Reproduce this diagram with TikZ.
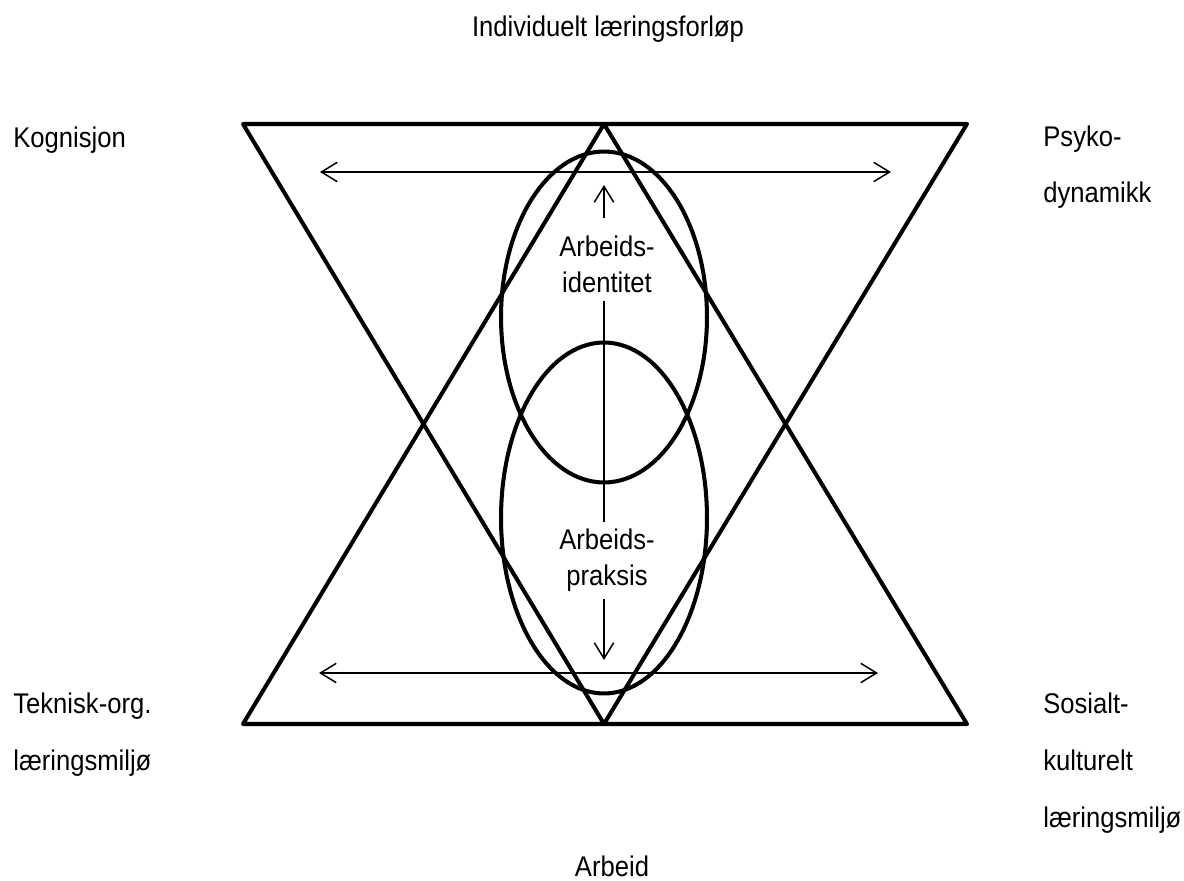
\documentclass[tikz,border=0pt]{standalone}
\usepackage{fontspec}
\setmainfont{Liberation Sans}[FakeStretch=0.9]
\usetikzlibrary{shapes.geometric,arrows.meta,positioning}

\begin{document}
\begin{tikzpicture}[x=0.02cm, y=-0.02cm,
  tri/.style={line width=2.3pt, line join=round},
  oval/.style={ellipse, draw, line width=2.3pt, inner sep=0pt, minimum width=4.12cm},
  arr/.style={-{Straight Barb[length=9pt, width=11pt]}, line width=0.85pt},
  darr/.style={{Straight Barb[length=9pt, width=11pt]}-{Straight Barb[length=9pt, width=11pt]}, line width=0.85pt},
  lbl/.style={font=\fontsize{16.2}{32.4}\selectfont, inner sep=0pt, align=left, anchor=base west},
  mid/.style={font=\fontsize{16.2}{20.5}\selectfont, inner sep=4pt, align=center, anchor=base}
]
  \useasboundingbox (0,0) rectangle (1184,881);
  % corners of the two triangles
  \coordinate (tl) at (243,124);
  \coordinate (tr) at (967,124);
  \coordinate (tm) at (604,124);
  \coordinate (bl) at (243,724);
  \coordinate (br) at (967,724);
  \coordinate (bm) at (604,724);
  \draw[tri] (tl) -- (tr) -- (bm) -- cycle;
  \draw[tri] (bl) -- (br) -- (tm) -- cycle;
  \node[oval, minimum height=6.62cm] (upper) at (604,317) {};
  \node[oval, minimum height=7.02cm] (lower) at (604,518) {};
  % horizontal arrows
  \coordinate (hl1) at (320,172);
  \coordinate (hr1) at (891,172);
  \coordinate (hl2) at (319,673);
  \coordinate (hr2) at (878,673);
  \draw[darr] (hl1) -- (hr1);
  \draw[darr] (hl2) -- (hr2);
  % vertical axis (base = last line)
  \node[mid] (idt) at (607,293) {Arbeids-\\identitet};
  \node[mid] (prk) at (607,586) {Arbeids-\\praksis};
  \coordinate (uptip) at (604,185);
  \coordinate (dntip) at (604,660);
  \draw[arr] ([yshift=6pt]idt.north -| uptip) -- (uptip);
  \draw[line width=0.85pt] (idt.south -| uptip) -- (prk.north -| uptip);
  \draw[arr] (prk.south -| dntip) -- (dntip);
  % labels
  \node[lbl, anchor=base] (ind) at (608,37) {Individuelt læringsforløp};
  \node[lbl, anchor=base] (arb) at (612,876) {Arbeid};
  \node[lbl] (kog) at (13,148) {Kognisjon};
  \node[lbl] (psy) at (1043,203) {Psyko-\\dynamikk};
  \node[lbl] (tek) at (13,770) {Teknisk-org.\\læringsmiljø};
  \node[lbl] (sos) at (1043,827) {Sosialt-\\kulturelt\\læringsmiljø};
\end{tikzpicture}
\end{document}
